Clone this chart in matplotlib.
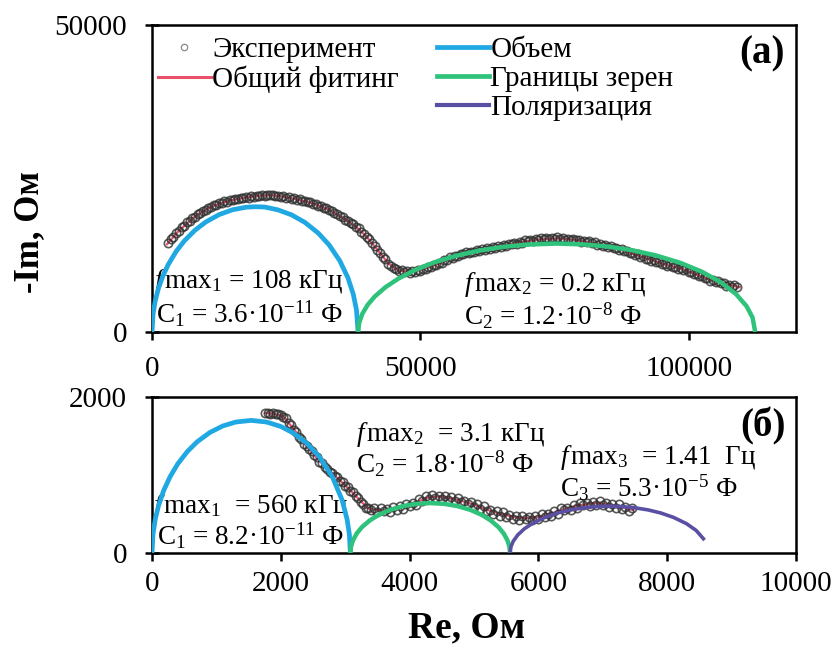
import matplotlib
matplotlib.use("Agg")
import matplotlib.pyplot as plt
from matplotlib.lines import Line2D

plt.rcParams['font.family'] = ['Liberation Serif', 'DejaVu Serif']
plt.rcParams['mathtext.fontset'] = 'custom'
plt.rcParams['mathtext.rm'] = 'Liberation Serif'
plt.rcParams['mathtext.it'] = 'Liberation Serif:italic'
plt.rcParams['mathtext.bf'] = 'Liberation Serif:bold'

# ---------------- panel (a) data ----------------
a_exp_x = [3000, 3500, 4000, 4500, 5000, 5500, 6000, 6500, 7000, 7500, 8000, 8500, 9000, 9500,
           10000, 10500, 11000, 11500, 12000, 12500, 13000, 13500, 14000, 14500, 15000, 15500,
           16000, 16500, 17000, 17500, 18000, 18500, 19000, 19500, 20000, 20500, 21000, 21500,
           22000, 22500, 23000, 23500, 24000, 24500, 25000, 25500, 26000, 26500, 27000, 27500,
           28000, 28500, 29000, 29500, 30000, 30500, 31000, 31500, 32000, 32500, 33000, 33500,
           34000, 34500, 35000, 35500, 36000, 36500, 37000, 37500, 38000, 38500, 39000, 39500,
           40000, 40500, 41000, 41500, 42000, 42500, 43000, 43500, 44000, 44500, 45000,
           45500, 46000, 46500, 47000, 47500, 48000, 48500, 49000, 49500, 50000, 50500, 51000,
           51500, 52000, 52500, 53000, 53500, 54000, 54500, 55000, 55500, 56000, 56500, 57000,
           57500, 58000, 58500, 59000, 59500, 60000, 60500, 61000, 61500, 62000, 62500, 63000,
           63500, 64000, 64500, 65000, 65500, 66000, 66500, 67000, 67500, 68000, 68500, 69000,
           69500, 70000, 70500, 71000, 71500, 72000, 72500, 73000, 73500, 74000, 74500, 75000,
           75500, 76000, 76500, 77000, 77500, 78000, 78500, 79000, 79500, 80000, 80500, 81000,
           81500, 82000, 82500, 83000, 83500, 84000, 84500, 85000, 85500, 86000, 86500, 87000,
           87500, 88000, 88500, 89000, 89500, 90000, 90500, 91000, 91500, 92000, 92500, 93000,
           93500, 94000, 94500, 95000, 95500, 96000, 96500, 97000, 97500, 98000, 98500, 99000,
           99500, 100000, 100500, 101000, 101500, 102000, 102500, 103000, 103500, 104000,
           104500, 105000, 105500, 106000, 106500, 107000, 107500, 108000, 108500, 109000]
a_exp_y = [14420, 15080, 15430, 16110, 16450, 17020, 17330, 17850, 18060, 18520, 18740, 19180,
           19350, 19760, 19900, 20250, 20350, 20660, 20700, 20980, 21000, 21260, 21250, 21480,
           21440, 21690, 21640, 21860, 21790, 21990, 21900, 22110, 22040, 22230, 22140, 22310,
           22190, 22350, 22240, 22330, 22140, 22230, 22030, 22110, 21890, 21960, 21730, 21780,
           21540, 21580, 21330, 21380, 21130, 21160, 20890, 20880, 20580, 20560, 20230, 20180,
           19830, 19730, 19330, 19230, 18830, 18710, 18280, 18130, 17680, 17530, 17080, 16880,
           16330, 16030, 15430, 15090, 14430, 14040, 13330, 12940, 12230, 11840, 11130, 10830,
           10350,
           10240, 9890, 10060, 9780, 9930, 9670, 9910, 9800, 10130, 9950, 10290, 10190,
           10600, 10550, 10930, 10850, 11260, 11280, 11780, 11780, 12160, 12050, 12410, 12360,
           12760, 12650, 12960, 12800, 13110, 13030, 13410, 13260, 13550, 13350, 13640, 13550,
           13910, 13760, 14050, 13850, 14140, 14050, 14410, 14260, 14550, 14350, 14650, 14560,
           14910, 14760, 15030, 14820, 15090, 14980, 15290, 15100, 15330, 15080, 15310, 15140,
           15420, 15180, 15350, 15040, 15210, 14980, 15210, 14920, 15060, 14720, 14860, 14600,
           14790, 14480, 14580, 14200, 14310, 14040, 14230, 13910, 14020, 13610, 13690, 13380,
           13530, 13160, 13230, 12800, 12860, 12530, 12650, 12260, 12310, 11890, 11960, 11630,
           11760, 11380, 11430, 11000, 11060, 10760, 10930, 10580, 10660, 10270, 10360, 10050,
           10200, 9800, 9830, 9380, 9410, 9060, 9160, 8760, 8780, 8350,
           8410, 8100, 8260, 7900, 7980, 7570, 7660, 7400, 7610, 7320]

a_fit_x = [2800, 5000, 8000, 11000, 14000, 17000, 20000, 22000, 24000, 27000, 30000, 33000,
           36000, 38000, 40000, 42000, 44000, 46000, 48000, 50000, 53000, 57000, 61000, 65000,
           69000, 73000, 76000, 79000, 83000, 87000, 91000, 95000, 99000, 103000, 106000, 109500]
a_fit_y = [14300, 16500, 18800, 20400, 21300, 21850, 22200, 22300, 22100, 21600, 20950, 19900,
           18350, 17150, 15500, 13400, 11200, 9980, 9830, 10100, 11000, 12480, 13330, 14000,
           14680, 15170, 15250, 14990, 14350, 13500, 12330, 11150, 10170, 8830, 7970, 7300]

a_bulk_x = [0, 200, 600, 1200, 2000, 3000, 4500, 6000, 8000, 10000, 12500, 15000, 17500, 19200,
            21000, 23500, 26000, 28500, 31000, 33000, 35000, 36500, 37500, 38100, 38400]
a_bulk_y = [0, 2937, 5060, 7099, 9066, 10950, 13123, 14814, 16570, 17906, 19117, 19906, 20320,
            20400, 20355, 19882, 19078, 17847, 16093, 14184, 11591, 8848, 6172, 3592, 0]

a_gb_x = [38400, 38600, 39200, 40200, 41500, 43500, 46000, 49000, 52500, 56500, 61000, 65500,
          70000, 75400, 80500, 85000, 89500, 94000, 98500, 102500, 106000, 108800, 110800,
          111900, 112400]
a_gb_y = [0, 1496, 2978, 4437, 5770, 7295, 8743, 10089, 11311, 12380, 13265, 13875, 14246,
          14400, 14263, 13907, 13314, 12448, 11249, 9804, 8095, 6196, 4189, 2359, 0]

# ---------------- panel (б) data ----------------
b_exp_x = [1760, 1800, 1840, 1880, 1920, 1960, 2000, 2040,
           2080, 2120, 2160, 2200, 2240, 2280, 2320, 2360, 2400, 2440, 2480, 2520, 2560, 2600,
           2640, 2680, 2720, 2760, 2800, 2840, 2880, 2920, 2960, 3000, 3040, 3080, 3120, 3160,
           3200, 3240, 3280, 3320, 3360, 3400,
           3450, 3500, 3550, 3600, 3650, 3700, 3750, 3800, 3850, 3900, 3950, 4000, 4050, 4100,
           4150, 4200, 4250, 4300, 4350, 4400, 4450, 4500, 4550, 4600, 4650, 4700, 4750, 4800,
           4850, 4900, 4950, 5000, 5050, 5100, 5150, 5200, 5250, 5300, 5350, 5400, 5450, 5500,
           5550, 5600, 5650, 5700, 5750, 5800, 5850, 5900, 5950, 6000, 6050, 6100, 6150, 6200,
           6250, 6300, 6350, 6400, 6450, 6500, 6550, 6600, 6650, 6700, 6750, 6800, 6850, 6900,
           6950, 7000, 7050, 7100, 7150, 7200, 7250, 7300, 7350, 7400, 7450]
b_exp_y = [1790, 1795, 1788, 1792, 1782, 1778, 1765, 1745,
           1725, 1672, 1645, 1580, 1555, 1488, 1460, 1402, 1378, 1328, 1308, 1252, 1228, 1172,
           1153, 1102, 1083, 1042, 1028, 982, 968, 922, 908, 862, 848, 797, 783, 732,
           708, 652, 628, 582, 578, 548,
           575, 528, 581, 540, 567, 530, 585, 545, 605, 570, 632, 600, 642, 620,
           690, 665, 728, 695, 750, 710, 733, 690, 732, 680, 723, 670, 710, 655,
           673, 625, 658, 595, 630, 570, 602, 540, 550, 495, 535, 480, 522, 465,
           482, 435, 477, 425, 477, 430, 457, 420, 475, 435, 500, 465, 502, 475,
           538, 505, 575, 545, 582, 555, 615, 580, 645, 610, 640, 605, 658, 615,
           665, 615, 635, 590, 632, 580, 625, 570, 585, 535, 575]

b_fit_x = [1760, 1900, 2040, 2200, 2400, 2600, 2800, 3000, 3200, 3350, 3500, 3700, 3900, 4100,
           4300, 4450, 4600, 4800, 5000, 5200, 5400, 5600, 5800, 6000, 6200, 6400, 6600, 6800,
           6950, 7100, 7300, 7470]
b_fit_y = [1795, 1785, 1750, 1590, 1370, 1180, 1020, 870, 700, 575, 548, 560, 590, 650,
           715, 725, 705, 670, 620, 555, 505, 465, 445, 460, 505, 560, 605, 635,
           640, 620, 585, 550]

b_bulk_x = [0, 15, 50, 100, 180, 280, 400, 550, 700, 900, 1100, 1300, 1540, 1780, 2000, 2200,
            2400, 2600, 2800, 2950, 3030, 3065, 3080]
b_bulk_y = [0, 237, 430, 603, 798, 977, 1143, 1302, 1425, 1546, 1629, 1679, 1700, 1679, 1622,
            1536, 1410, 1233, 977, 684, 430, 237, 0]

b_gb_x = [3080, 3090, 3120, 3180, 3260, 3380, 3520, 3700, 3900, 4100, 4320, 4540, 4740, 4940,
          5120, 5260, 5380, 5460, 5520, 5550, 5560]
b_gb_y = [0, 81, 161, 252, 332, 417, 489, 554, 602, 630, 640, 630, 602, 554,
          489, 417, 332, 252, 161, 81, 0]

b_pol_x = [5560, 5575, 5610, 5680, 5780, 5920, 6100, 6300, 6500, 6700, 6900, 7100, 7300, 7500,
           7700, 7900, 8100, 8300, 8450, 8580]
b_pol_y = [0, 84, 152, 232, 309, 386, 456, 513, 553, 579, 595, 600, 595, 579,
           553, 513, 456, 376, 289, 166]

a_xticks = [0, 50000, 100000]
a_yticks = [0, 50000]
b_xticks = [0, 2000, 4000, 6000, 8000, 10000]
b_yticks = [0, 2000]

labels = ['Эксперимент', 'Общий фитинг', 'Объем', 'Границы зерен', 'Поляризация']

# ---------------- styles ----------------
C_BULK = '#1fa8e2'
C_GB = '#2ec27a'
C_POL = '#5a50a3'
C_FIT = '#e9506b'
C_EXP = '#303030'

fig = plt.figure(figsize=(8.39, 6.55), dpi=100)
W, H = 839, 655
axA = fig.add_axes([152 / W, 1 - 332 / H, 644 / W, 307 / H])
axB = fig.add_axes([152 / W, 1 - 553 / H, 644 / W, 156 / H])

def style(ax, xt, yt, xlim, ylim, xpad):
    ax.set_xlim(*xlim)
    ax.set_ylim(*ylim)
    ax.set_xticks(xt)
    ax.set_yticks(yt)
    ax.set_xticklabels([str(v) for v in xt])
    ax.set_yticklabels([str(v) for v in yt])
    for s in ax.spines.values():
        s.set_linewidth(1.8)
        s.set_color('black')
    ax.tick_params(axis='x', direction='out', length=6, width=1.8, labelsize=21, pad=xpad)
    ax.tick_params(axis='y', direction='inout', length=10, width=1.8, labelsize=21, pad=13)

def draw(ax, ex, ey, fx, fy, arcs):
    ax.plot(fx, fy, color=C_FIT, lw=1.6, zorder=2)
    ax.plot(ex, ey, linestyle='none', marker='o', markersize=6.0, markerfacecolor='none',
            markeredgecolor=C_EXP, markeredgewidth=1.2, alpha=0.8, zorder=3)
    for (x, y, c, lw) in arcs:
        ax.plot(x, y, color=c, lw=lw, solid_capstyle='butt', zorder=4)

draw(axA, a_exp_x, a_exp_y, a_fit_x, a_fit_y,
     [(a_bulk_x, a_bulk_y, C_BULK, 3.4), (a_gb_x, a_gb_y, C_GB, 3.2)])
draw(axB, b_exp_x, b_exp_y, b_fit_x, b_fit_y,
     [(b_bulk_x, b_bulk_y, C_BULK, 3.4), (b_gb_x, b_gb_y, C_GB, 3.2), (b_pol_x, b_pol_y, C_POL, 2.6)])

style(axA, a_xticks, a_yticks, (0, 120000), (0, 50000), 11)
style(axB, b_xticks, b_yticks, (0, 10000), (0, 2000), 7)

# annotations
fs = 19.5
axA.text(300, 8150, r"$f\,\mathrm{max}_1$ = 108 кГц", fontsize=fs, va='center', ha='left')
axA.text(800, 3000, r"C$_1$ = 3.6·10$^{-11}$ Ф", fontsize=fs, va='center', ha='left')
axA.text(58200, 7700, r"$f\,\mathrm{max}_2$ = 0.2 кГц", fontsize=fs, va='center', ha='left')
axA.text(58200, 2700, r"C$_2$ = 1.2·10$^{-8}$ Ф", fontsize=fs, va='center', ha='left')
axA.text(0.947, 0.906, "(a)", transform=axA.transAxes, fontsize=28, fontweight='bold',
         ha='center', va='center')

axB.text(20, 590, r"$f\,\mathrm{max}_1$  = 560 кГц", fontsize=fs, va='center', ha='left')
axB.text(80, 220, r"C$_1$ = 8.2·10$^{-11}$ Ф", fontsize=fs, va='center', ha='left')
axB.text(3170, 1520, r"$f\,\mathrm{max}_2$  = 3.1 кГц", fontsize=fs, va='center', ha='left')
axB.text(3170, 1140, r"C$_2$ = 1.8·10$^{-8}$ Ф", fontsize=fs, va='center', ha='left')
axB.text(6340, 1225, r"$f\,\mathrm{max}_3$  = 1.41  Гц", fontsize=fs, va='center', ha='left')
axB.text(6340, 835, r"C$_3$ = 5.3·10$^{-5}$ Ф", fontsize=fs, va='center', ha='left')
axB.text(0.949, 0.814, "(б)", transform=axB.transAxes, fontsize=28, fontweight='bold',
         ha='center', va='center')

# legend
h_exp = Line2D([], [], linestyle='none', marker='o', markersize=4.6, markerfacecolor='none',
               markeredgecolor='#8a8a8a', markeredgewidth=0.9)
h_fit = Line2D([], [], color=C_FIT, lw=2.2)
h_dummy = Line2D([], [], color='none')
h_bulk = Line2D([], [], color=C_BULK, lw=3.4)
h_gb = Line2D([], [], color=C_GB, lw=3.4)
h_pol = Line2D([], [], color=C_POL, lw=3.0)
leg = axA.legend([h_exp, h_fit, h_dummy, h_bulk, h_gb, h_pol],
                 [labels[0], labels[1], '', labels[2], labels[3], labels[4]],
                 ncol=2, loc='upper left', bbox_to_anchor=(158 / W, 1 - 37 / H),
                 bbox_transform=fig.transFigure, frameon=False, fontsize=21,
                 handlelength=1.8, handletextpad=0.05, columnspacing=1.3,
                 labelspacing=0.08, borderpad=0, borderaxespad=0)

fig.text(467 / W, 1 - 628 / H, "Re, Ом", fontsize=27, fontweight='bold', ha='center', va='center')
fig.text(30 / W, 1 - 232 / H, "-Im, Ом", fontsize=25, fontweight='bold', ha='center',
         va='center', rotation=90)

fig.savefig("out.png", dpi=100)
